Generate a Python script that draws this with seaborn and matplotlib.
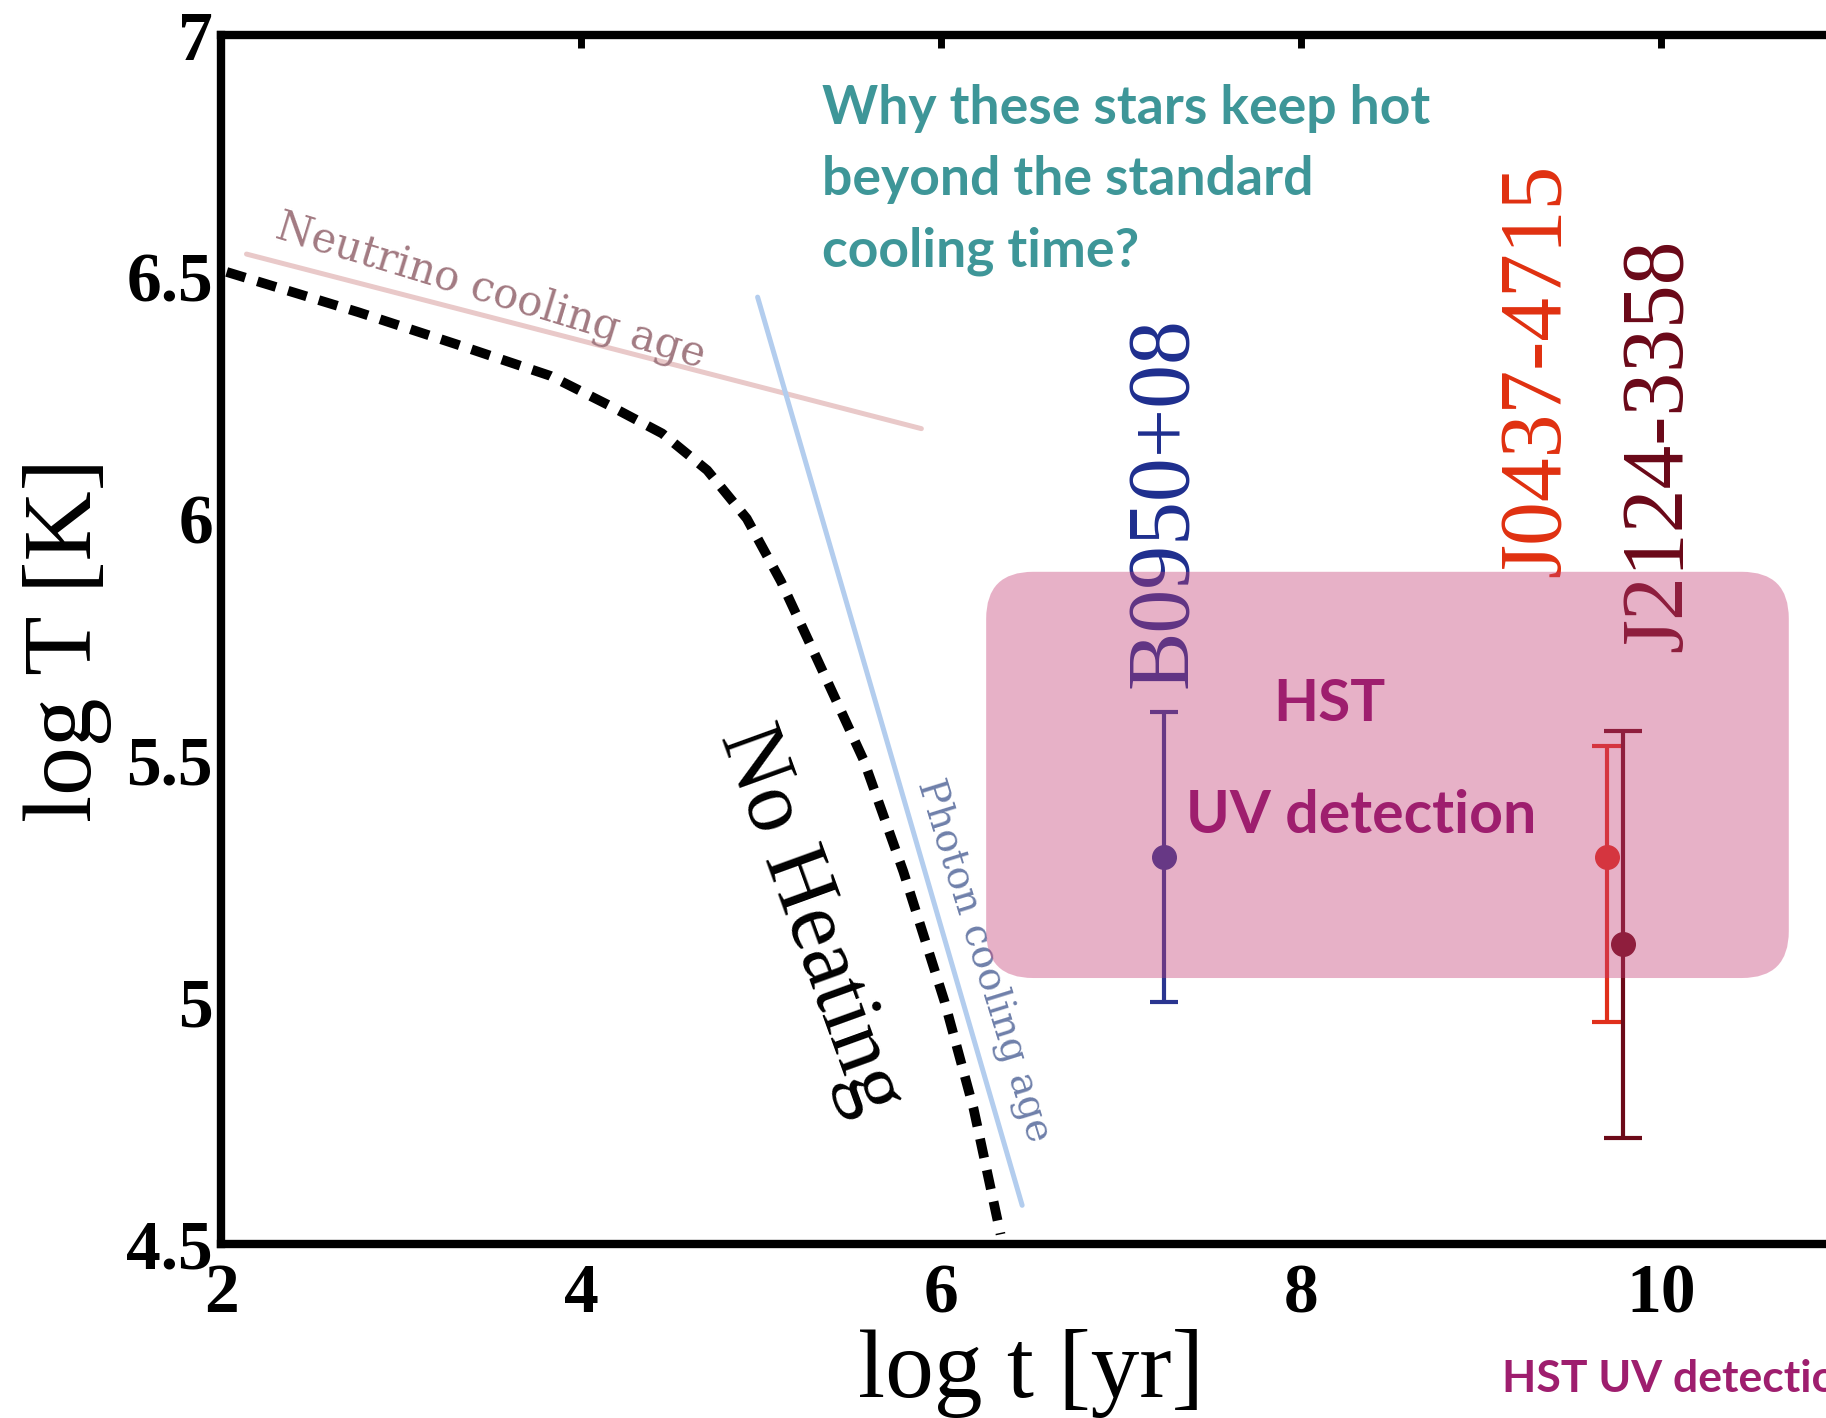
import matplotlib
matplotlib.use("Agg")
import matplotlib.pyplot as plt
import seaborn as sns
import pandas as pd
from matplotlib.patches import FancyBboxPatch

# ---------------- data ----------------
nh_logt = [2.03, 2.76, 3.31, 3.83, 4.15, 4.45, 4.70, 4.92, 5.11, 5.31, 5.57, 5.79, 6.02, 6.18, 6.33]
nh_logT = [6.51, 6.427, 6.36, 6.295, 6.235, 6.176, 6.10, 6.00, 5.87, 5.71, 5.50, 5.27, 5.00, 4.78, 4.52]
neutrino_logt = [2.14, 5.89]
neutrino_logT = [6.547, 6.186]
photon_logt = [4.98, 6.45]
photon_logT = [6.458, 4.58]

pulsar_names = ["B0950+08", "J0437-4715", "J2124-3358"]
pulsar_logt = [7.24, 9.70, 9.79]
pulsar_logT = [5.30, 5.30, 5.12]
pulsar_err_up = [0.30, 0.23, 0.44]
pulsar_err_lo = [0.30, 0.34, 0.40]
pulsar_colors = ["#2a3590", "#e0301c", "#6c0a18"]
label_colors = ["#1e2e8e", "#e03010", "#6a0818"]
label_logt = [7.24, 9.31, 9.99]
label_logT = [5.65, 5.88, 5.724]

hst_box_logt = [6.25, 10.71]
hst_box_logT = [5.05, 5.89]

xticks = [2, 4, 6, 8, 10]
xticklabels = ["2", "4", "6", "8", "10"]
yticks = [4.5, 5, 5.5, 6, 6.5, 7]
yticklabels = ["4.5", "5", "5.5", "6", "6.5", "7"]

question = "Why these stars keep hot\nbeyond the standard\ncooling time?"

# ---------------- style ----------------
sns.set_theme(style="white")
plt.rcParams["font.family"] = ["Liberation Serif", "DejaVu Serif"]
plt.rcParams["text.color"] = "black"
plt.rcParams["axes.labelcolor"] = "black"

W, H = 1826, 1418
fig = plt.figure(figsize=(W / 100, H / 100), dpi=100)
ax = fig.add_axes([221.3 / W, 1 - 1244 / H, (1841 - 221.3) / W, (1244 - 35) / H])
ax.set_xlim(2, 11)
ax.set_ylim(4.5, 7)

for sp in ax.spines.values():
    sp.set_linewidth(6)
    sp.set_color("black")

# No heating curve
df_nh = pd.DataFrame({"logt": nh_logt, "logT": nh_logT})
sns.lineplot(data=df_nh, x="logt", y="logT", sort=False, color="black", lw=7, ax=ax, zorder=3)
ln = ax.lines[-1]
ln.set_linestyle((0, (2.0, 1.3)))
ln.set_dash_capstyle("butt")
ln.set_clip_on(False)

# Neutrino / photon cooling lines
sns.lineplot(x=neutrino_logt, y=neutrino_logT, color="#e9c9c9", lw=3.6, ax=ax, zorder=2)
sns.lineplot(x=photon_logt, y=photon_logT, color="#b3cdee", lw=3.6, ax=ax, zorder=2)

ax.text(3.50, 6.47, "Neutrino cooling age", rotation=-17, rotation_mode="anchor",
        ha="center", va="center", fontsize=30, color="#a27a82", family="DejaVu Serif")
ax.text(6.23, 5.085, "Photon cooling age", rotation=-72.8, rotation_mode="anchor",
        ha="center", va="center", fontsize=28, color="#6f80aa", family="DejaVu Serif")
ax.text(5.27, 5.17, "No Heating", rotation=-70.1, rotation_mode="anchor",
        ha="center", va="center", fontsize=63, color="black", family="Liberation Serif")

# pulsars
for i in range(len(pulsar_names)):
    ax.errorbar(pulsar_logt[i], pulsar_logT[i],
                yerr=[[pulsar_err_lo[i]], [pulsar_err_up[i]]],
                fmt="o", color=pulsar_colors[i], ms=17, elinewidth=3, capsize=[10, 11, 14][i],
                capthick=3, zorder=3)
    ax.text(label_logt[i], label_logT[i], pulsar_names[i], rotation=90, ha="center", va="bottom",
            fontsize=63, color=label_colors[i], family="Liberation Serif", zorder=3)

# HST box (semi-transparent overlay)
aspect = (1841 - 221.3) / 9 / ((1244 - 35) / 2.5)
box = FancyBboxPatch((hst_box_logt[0], hst_box_logT[0]),
                     hst_box_logt[1] - hst_box_logt[0], hst_box_logT[1] - hst_box_logT[0],
                     boxstyle="round,pad=0,rounding_size=0.26", mutation_aspect=aspect,
                     facecolor=(197 / 255, 62 / 255, 117 / 255), edgecolor="none", alpha=0.4,
                     zorder=4, transform=ax.transData)
ax.add_patch(box)

ax.text(1329 / W, 1 - 704.5 / H, "HST", transform=fig.transFigure, ha="center", va="center",
        fontsize=42, color="#9e1e6e", family="Lato", fontweight="bold", zorder=5)
ax.text(1361 / W, 1 - 816 / H, "UV detection", transform=fig.transFigure, ha="center", va="center",
        fontsize=42.5, color="#9e1e6e", family="Lato", fontweight="bold", zorder=5)

fig.text(822 / W, 1 - 84 / H, question, ha="left", va="top", fontsize=38.5, color="#3e9698",
         family="Lato", fontweight="bold", linespacing=1.55)

fig.text(1502 / W, 1 - 1392 / H, "HST UV detection", ha="left", va="baseline", fontsize=32,
         color="#9e1e6e", family="Lato", fontweight="bold")

# ticks
ax.set_xticks(xticks)
ax.set_xticklabels(xticklabels, fontweight="bold", fontsize=50, family="Liberation Serif")
ax.set_yticks(yticks)
ax.set_yticklabels(yticklabels, fontweight="bold", fontsize=50, family="Liberation Serif")
ax.tick_params(axis="both", direction="in", length=9, width=5, top=True, right=True,
               colors="black")
ax.tick_params(axis="x", pad=14)
ax.tick_params(axis="y", pad=6)

ax.set_xlabel("log t [yr]", fontsize=70, family="Liberation Serif", labelpad=1, color="black")
ax.set_ylabel("log T [K]", fontsize=70, family="Liberation Serif", labelpad=10, color="black")

fig.savefig("out.png", dpi=100)
